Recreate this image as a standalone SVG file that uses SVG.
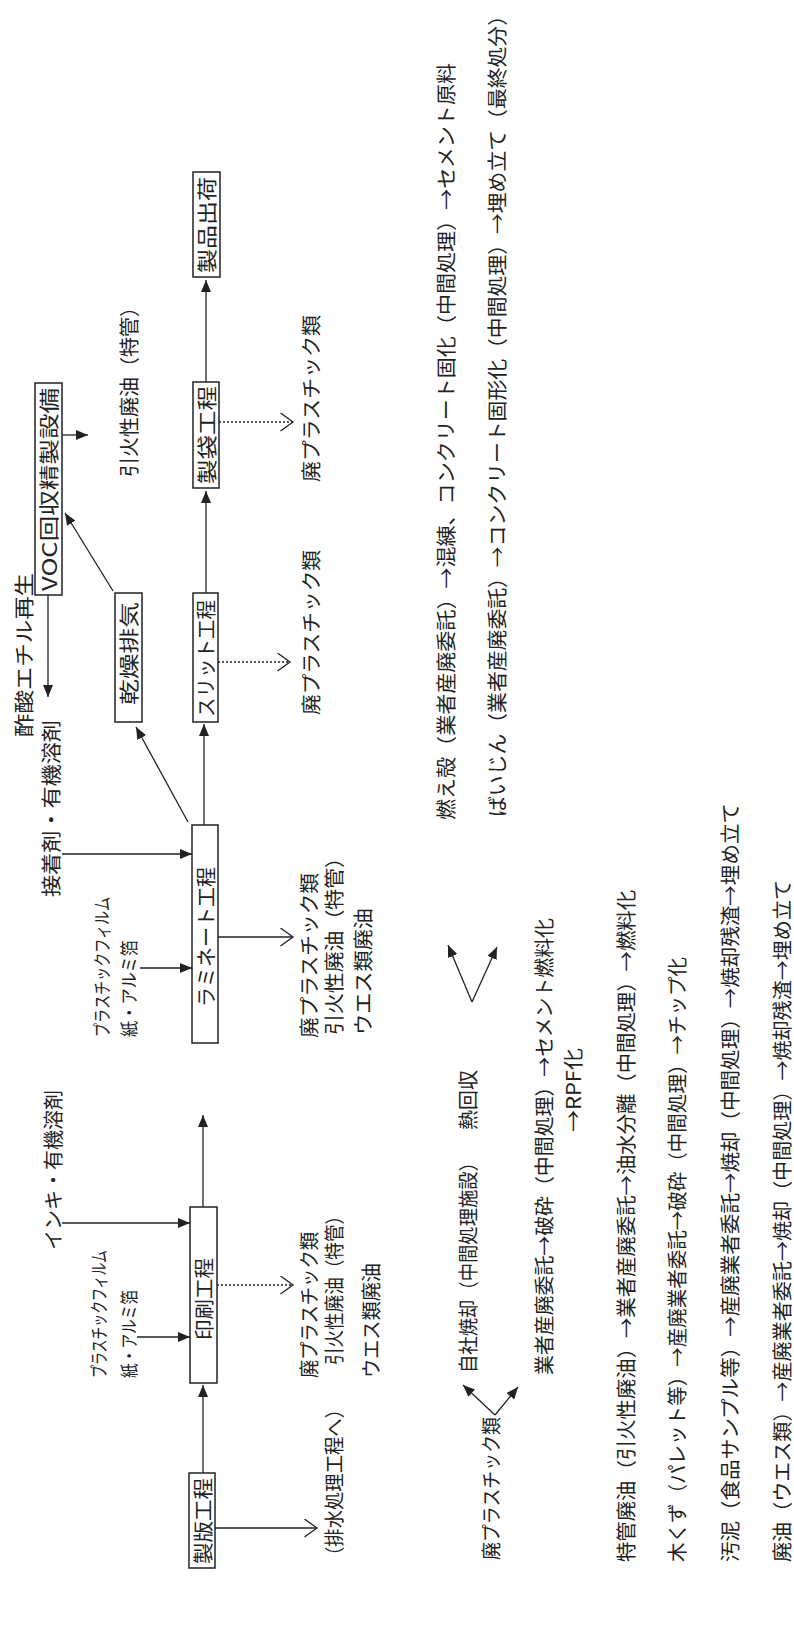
<svg xmlns="http://www.w3.org/2000/svg" width="794" height="1643" viewBox="0 0 794 1643">
<style>
.t{font-family:"Noto Sans CJK JP","Noto Sans",sans-serif;font-size:20px;fill:#222;dominant-baseline:central}
.s{font-size:18px}
.box{fill:#fff;stroke:#222;stroke-width:1.5}
.ln{stroke:#222;stroke-width:1.3;fill:none}
.dot{stroke-dasharray:2 2}
</style>
<defs>
<marker id="fa" markerUnits="userSpaceOnUse" markerWidth="13" markerHeight="10" refX="12" refY="5" orient="auto">
<path d="M0,0 L12,5 L0,10 z" fill="#222"/>
</marker>
<marker id="ch" markerUnits="userSpaceOnUse" markerWidth="15" markerHeight="20" refX="13" refY="9.5" orient="auto">
<path d="M0.5,0.5 L13,9.5 L0.5,18.5" fill="none" stroke="#222" stroke-width="1.3"/>
</marker>
</defs>
<rect width="794" height="1643" fill="#fff"/>

<g id="connectors">
<line class="ln" x1="203" y1="1473" x2="203" y2="1385" marker-end="url(#fa)"/>
<line class="ln" x1="215" y1="1528" x2="317" y2="1528" marker-end="url(#ch)"/>
<line class="ln" x1="203" y1="1207" x2="203" y2="1115" marker-end="url(#fa)"/>
<line class="ln" x1="137" y1="1337" x2="190" y2="1337" marker-end="url(#fa)"/>
<line class="ln" x1="62" y1="1223" x2="190" y2="1223" marker-end="url(#fa)"/>
<line class="ln dot" x1="217" y1="1285" x2="293" y2="1285" marker-end="url(#ch)"/>
<line class="ln" x1="204" y1="825" x2="204" y2="724" marker-end="url(#fa)"/>
<line class="ln" x1="188" y1="822" x2="136" y2="727" marker-end="url(#fa)"/>
<line class="ln" x1="140" y1="968" x2="192" y2="968" marker-end="url(#fa)"/>
<line class="ln" x1="62" y1="854" x2="192" y2="854" marker-end="url(#fa)"/>
<line class="ln" x1="218" y1="937" x2="293" y2="937" marker-end="url(#ch)"/>
<line class="ln" x1="113" y1="591" x2="65" y2="513" marker-end="url(#fa)"/>
<line class="ln" x1="48" y1="595" x2="48" y2="697" marker-end="url(#fa)"/>
<line class="ln" x1="62" y1="435" x2="88" y2="435" marker-end="url(#fa)"/>
<line class="ln" x1="206" y1="593" x2="206" y2="491" marker-end="url(#fa)"/>
<line class="ln dot" x1="218" y1="662" x2="290" y2="662" marker-end="url(#ch)"/>
<line class="ln dot" x1="219" y1="422" x2="293" y2="422" marker-end="url(#ch)"/>
<line class="ln" x1="206" y1="382" x2="206" y2="280" marker-end="url(#fa)"/>
<line class="ln" x1="495" y1="1415" x2="463" y2="1385" marker-end="url(#fa)"/>
<line class="ln" x1="495" y1="1415" x2="518" y2="1387" marker-end="url(#fa)"/>
<line class="ln" x1="472" y1="1002" x2="448" y2="945" marker-end="url(#fa)"/>
<line class="ln" x1="472" y1="1002" x2="497" y2="947" marker-end="url(#fa)"/>
</g>

<g id="seihan">
<rect class="box" x="189" y="1473" width="26" height="95"/>
<text class="t" x="202" y="1564" transform="rotate(-90 202 1564)" textLength="86" lengthAdjust="spacingAndGlyphs">製版工程</text>
</g>
<g id="haisui">
<text class="t" x="333" y="1565" transform="rotate(-90 333 1565)" textLength="165" lengthAdjust="spacingAndGlyphs">（排水処理工程へ）</text>
</g>
<g id="insatsu">
<rect class="box" x="190" y="1207" width="27" height="176"/>
<text class="t" x="203.5" y="1340" transform="rotate(-90 203.5 1340)" textLength="82" lengthAdjust="spacingAndGlyphs">印刷工程</text>
</g>
<g id="insatsu-in">
<text class="t s" x="98" y="1378" transform="rotate(-90 98 1378)" textLength="128" lengthAdjust="spacingAndGlyphs">プラスチックフィルム</text>
<text class="t s" x="128" y="1378" transform="rotate(-90 128 1378)" textLength="88" lengthAdjust="spacingAndGlyphs">紙・アルミ箔</text>
<text class="t" x="52" y="1250" transform="rotate(-90 52 1250)" textLength="160" lengthAdjust="spacingAndGlyphs">インキ・有機溶剤</text>
</g>
<g id="insatsu-out">
<text class="t" x="308" y="1378" transform="rotate(-90 308 1378)" textLength="146" lengthAdjust="spacingAndGlyphs">廃プラスチック類</text>
<text class="t" x="333" y="1365" transform="rotate(-90 333 1365)" textLength="158" lengthAdjust="spacingAndGlyphs">引火性廃油（特管）</text>
<text class="t" x="370" y="1378" transform="rotate(-90 370 1378)" textLength="115" lengthAdjust="spacingAndGlyphs">ウエス類廃油</text>
</g>

<g id="laminate">
<rect class="box" x="192" y="825" width="26" height="218"/>
<text class="t" x="205" y="1007" transform="rotate(-90 205 1007)" textLength="140" lengthAdjust="spacingAndGlyphs">ラミネート工程</text>
</g>
<g id="laminate-in">
<text class="t s" x="101" y="1037" transform="rotate(-90 101 1037)" textLength="140" lengthAdjust="spacingAndGlyphs">プラスチックフィルム</text>
<text class="t s" x="128" y="1037" transform="rotate(-90 128 1037)" textLength="97" lengthAdjust="spacingAndGlyphs">紙・アルミ箔</text>
<text class="t" x="50" y="897" transform="rotate(-90 50 897)" textLength="177" lengthAdjust="spacingAndGlyphs">接着剤・有機溶剤</text>
</g>
<g id="laminate-out">
<text class="t" x="308" y="1038" transform="rotate(-90 308 1038)" textLength="165" lengthAdjust="spacingAndGlyphs">廃プラスチック類</text>
<text class="t" x="333" y="1035" transform="rotate(-90 333 1035)" textLength="188" lengthAdjust="spacingAndGlyphs">引火性廃油（特管）</text>
<text class="t" x="362" y="1035" transform="rotate(-90 362 1035)" textLength="127" lengthAdjust="spacingAndGlyphs">ウエス類廃油</text>
</g>

<g id="slit">
<rect class="box" x="193" y="593" width="25" height="129"/>
<text class="t" x="205.5" y="717" transform="rotate(-90 205.5 717)" textLength="117" lengthAdjust="spacingAndGlyphs">スリット工程</text>
</g>
<g id="slit-out">
<text class="t" x="310" y="715" transform="rotate(-90 310 715)" textLength="165" lengthAdjust="spacingAndGlyphs">廃プラスチック類</text>
</g>
<g id="kanso">
<rect class="box" x="115" y="593" width="27" height="129"/>
<text class="t" x="128.5" y="705" transform="rotate(-90 128.5 705)" textLength="103" lengthAdjust="spacingAndGlyphs">乾燥排気</text>
</g>
<g id="voc">
<rect class="box" x="35" y="383" width="27" height="212"/>
<text class="t" x="48.5" y="591" transform="rotate(-90 48.5 591)" textLength="203" lengthAdjust="spacingAndGlyphs">VOC回収精製設備</text>
</g>
<g id="sakusan">
<text class="t" x="23" y="737" transform="rotate(-90 23 737)" textLength="164" lengthAdjust="spacingAndGlyphs">酢酸エチル再生</text>
</g>
<g id="voc-out">
<text class="t" x="128" y="477" transform="rotate(-90 128 477)" textLength="180" lengthAdjust="spacingAndGlyphs">引火性廃油（特管）</text>
</g>

<g id="seitai">
<rect class="box" x="193" y="382" width="26" height="106"/>
<text class="t" x="206" y="484" transform="rotate(-90 206 484)" textLength="98" lengthAdjust="spacingAndGlyphs">製袋工程</text>
</g>
<g id="seitai-out">
<text class="t" x="310" y="482" transform="rotate(-90 310 482)" textLength="167" lengthAdjust="spacingAndGlyphs">廃プラスチック類</text>
</g>
<g id="shukka">
<rect class="box" x="193" y="172" width="27" height="105"/>
<text class="t" x="206.5" y="273" transform="rotate(-90 206.5 273)" textLength="96" lengthAdjust="spacingAndGlyphs">製品出荷</text>
</g>

<g id="haipura">
<text class="t" x="490" y="1560" transform="rotate(-90 490 1560)" textLength="143" lengthAdjust="spacingAndGlyphs">廃プラスチック類</text>
</g>
<g id="jisha">
<text class="t" x="467" y="1373" transform="rotate(-90 467 1373)" textLength="220" lengthAdjust="spacingAndGlyphs">自社焼却（中間処理施設）</text>
<text class="t" x="467" y="1130" transform="rotate(-90 467 1130)" textLength="60" lengthAdjust="spacingAndGlyphs">熱回収</text>
</g>
<g id="gyosha">
<text class="t" x="543" y="1375" transform="rotate(-90 543 1375)" textLength="457" lengthAdjust="spacingAndGlyphs">業者産廃委託→破砕（中間処理）→セメント燃料化</text>
<text class="t" x="572" y="1132" transform="rotate(-90 572 1132)" textLength="84" lengthAdjust="spacingAndGlyphs">→RPF化</text>
</g>
<g id="tokkan">
<text class="t" x="625" y="1562" transform="rotate(-90 625 1562)" textLength="672" lengthAdjust="spacingAndGlyphs">特管廃油（引火性廃油）→業者産廃委託→油水分離（中間処理）→燃料化</text>
</g>
<g id="mokuzu">
<text class="t" x="676" y="1562" transform="rotate(-90 676 1562)" textLength="605" lengthAdjust="spacingAndGlyphs">木くず（パレット等）→産廃業者委託→破砕（中間処理）→チップ化</text>
</g>
<g id="odei">
<text class="t" x="729" y="1562" transform="rotate(-90 729 1562)" textLength="759" lengthAdjust="spacingAndGlyphs">汚泥（食品サンプル等）→産廃業者委託→焼却（中間処理）→焼却残渣→埋め立て</text>
</g>
<g id="haiyu">
<text class="t" x="781" y="1562" transform="rotate(-90 781 1562)" textLength="682" lengthAdjust="spacingAndGlyphs">廃油（ウエス類）→産廃業者委託→焼却（中間処理）→焼却残渣→埋め立て</text>
</g>
<g id="moegara">
<text class="t" x="445" y="820" transform="rotate(-90 445 820)" textLength="757" lengthAdjust="spacingAndGlyphs">燃え殻（業者産廃委託）→混練、コンクリート固化（中間処理）→セメント原料</text>
</g>
<g id="baijin">
<text class="t" x="496" y="817" transform="rotate(-90 496 817)" textLength="812" lengthAdjust="spacingAndGlyphs">ばいじん（業者産廃委託）→コンクリート固形化（中間処理）→埋め立て（最終処分）</text>
</g>
</svg>
